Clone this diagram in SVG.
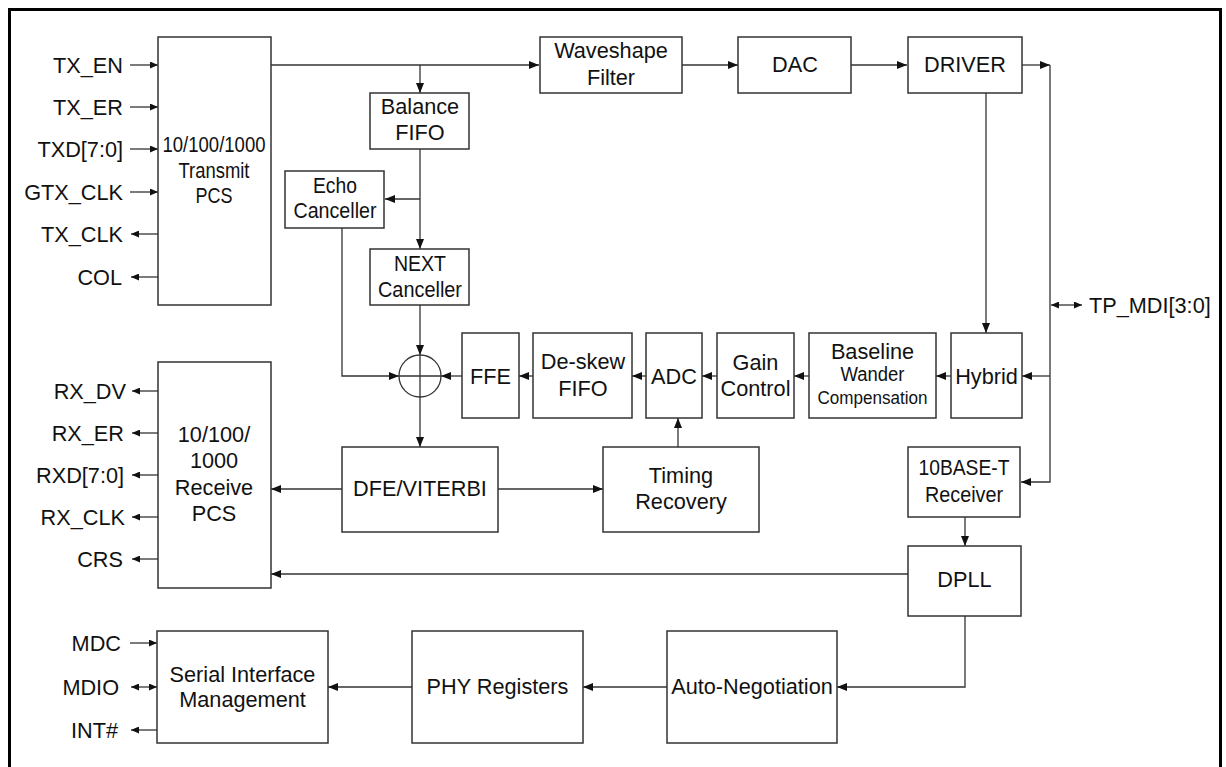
<svg xmlns="http://www.w3.org/2000/svg" width="1226" height="767" viewBox="0 0 1226 767">
<style>
.b{fill:#fff;stroke:#333;stroke-width:1.5}
.c{fill:none;stroke:#333;stroke-width:1.3}
.t{font-family:"Liberation Sans",Arial,sans-serif;font-size:21.7px;fill:#111;text-anchor:middle}
.l{font-family:"Liberation Sans",Arial,sans-serif;font-size:21.7px;fill:#111;text-anchor:end}
.a{marker-end:url(#a)}
.s{marker-end:url(#s)}
</style>
<defs>
<marker id="a" markerUnits="userSpaceOnUse" markerWidth="10" markerHeight="8" refX="10" refY="4" orient="auto-start-reverse"><path d="M0,0 L10,4 L0,8 z" fill="#111"/></marker>
<marker id="s" markerUnits="userSpaceOnUse" markerWidth="8" markerHeight="7" refX="8" refY="3.5" orient="auto-start-reverse"><path d="M0,0 L8,3.5 L0,7 z" fill="#111"/></marker>
</defs>
<rect x="0" y="0" width="1226" height="767" fill="#fff"/>
<rect x="9.5" y="9.5" width="1211" height="800" fill="none" stroke="#000" stroke-width="3"/>

<g id="connectors">
<path class="c a" d="M271,65 H539"/>
<path class="c a" d="M420,65 V93"/>
<path class="c a" d="M682,65 H738"/>
<path class="c a" d="M851,65 H907"/>
<path class="c a" d="M1022,65 H1050"/>
<path class="c a" d="M1050,65 V482 H1021"/>
<path class="c a" d="M1050,376 H1022"/>
<path class="c s" style="marker-start:url(#s)" d="M1051,305 H1082"/>
<path class="c a" d="M986,93 V333"/>
<path class="c a" d="M420,149 V249"/>
<path class="c a" d="M420,199 H385"/>
<path class="c a" d="M342,228 V376 H399"/>
<path class="c a" d="M420,305 V355"/>
<path class="c a" d="M462,376 H441"/>
<path class="c a" d="M533,376 H519"/>
<path class="c a" d="M646,376 H632"/>
<path class="c a" d="M717,376 H702"/>
<path class="c a" d="M809,376 H794"/>
<path class="c a" d="M951,376 H936"/>
<path class="c a" d="M420,397 V447"/>
<path class="c a" d="M342,489 H271"/>
<path class="c a" d="M498,489 H603"/>
<path class="c a" d="M678,447 V418"/>
<path class="c a" d="M965,517 V546"/>
<path class="c a" d="M908,574 H271"/>
<path class="c a" d="M965,616 V687 H837"/>
<path class="c a" d="M667,687 H583"/>
<path class="c a" d="M412,687 H328"/>
<path class="c s" d="M130,65 H158"/>
<path class="c s" d="M130,107 H158"/>
<path class="c s" d="M130,149 H158"/>
<path class="c s" d="M130,192 H158"/>
<path class="c s" d="M158,234 H131"/>
<path class="c s" d="M158,277 H131"/>
<path class="c s" d="M158,391 H132"/>
<path class="c s" d="M158,433 H132"/>
<path class="c s" d="M158,475 H132"/>
<path class="c s" d="M158,517 H132"/>
<path class="c s" d="M158,559 H132"/>
<path class="c s" d="M130,643 H157"/>
<path class="c s" style="marker-start:url(#s)" d="M131,687 H157"/>
<path class="c s" d="M157,730 H131"/>
</g>

<g id="io-labels">
<text class="l" x="123" y="73">TX_EN</text>
<text class="l" x="123" y="115">TX_ER</text>
<text class="l" x="123" y="157">TXD[7:0]</text>
<text class="l" x="123" y="200">GTX_CLK</text>
<text class="l" x="123" y="242">TX_CLK</text>
<text class="l" x="122" y="285">COL</text>
<text class="l" x="126" y="399">RX_DV</text>
<text class="l" x="124" y="441">RX_ER</text>
<text class="l" x="124" y="483">RXD[7:0]</text>
<text class="l" x="125" y="525">RX_CLK</text>
<text class="l" x="123" y="567">CRS</text>
<text class="l" x="121" y="651">MDC</text>
<text class="l" x="119" y="695">MDIO</text>
<text class="l" x="118" y="738">INT#</text>
<text class="t" style="text-anchor:start" x="1089" y="313">TP_MDI[3:0]</text>
</g>

<g id="transmit-pcs">
<rect class="b" x="158" y="37" width="113" height="268"/>
<text class="t" x="214" y="152" textLength="103" lengthAdjust="spacingAndGlyphs">10/100/1000</text>
<text class="t" x="214" y="178" textLength="71" lengthAdjust="spacingAndGlyphs">Transmit</text>
<text class="t" x="214" y="203" textLength="37" lengthAdjust="spacingAndGlyphs">PCS</text>
</g>
<g id="balance-fifo">
<rect class="b" x="370" y="93" width="99" height="56"/>
<text class="t" x="420" y="114">Balance</text>
<text class="t" x="420" y="140">FIFO</text>
</g>
<g id="echo-canceller">
<rect class="b" x="285" y="171" width="99" height="57"/>
<text class="t" x="335" y="193" textLength="44" lengthAdjust="spacingAndGlyphs">Echo</text>
<text class="t" x="335" y="218" textLength="83" lengthAdjust="spacingAndGlyphs">Canceller</text>
</g>
<g id="next-canceller">
<rect class="b" x="370" y="249" width="99" height="56"/>
<text class="t" x="420" y="271" textLength="52" lengthAdjust="spacingAndGlyphs">NEXT</text>
<text class="t" x="420" y="297" textLength="84" lengthAdjust="spacingAndGlyphs">Canceller</text>
</g>
<g id="waveshape-filter">
<rect class="b" x="540" y="37" width="142" height="56"/>
<text class="t" x="611" y="58">Waveshape</text>
<text class="t" x="611" y="85">Filter</text>
</g>
<g id="dac">
<rect class="b" x="738" y="37" width="113" height="56"/>
<text class="t" x="795" y="72">DAC</text>
</g>
<g id="driver">
<rect class="b" x="908" y="37" width="114" height="56"/>
<text class="t" x="965" y="72">DRIVER</text>
</g>
<g id="adder">
<circle cx="420" cy="376" r="21" fill="#fff" stroke="#333" stroke-width="1.3"/>
<path class="c" d="M399,376 H441 M420,355 V397"/>
</g>
<g id="ffe">
<rect class="b" x="462" y="333" width="57" height="85"/>
<text class="t" x="490.5" y="384">FFE</text>
</g>
<g id="deskew-fifo">
<rect class="b" x="533" y="333" width="99" height="85"/>
<text class="t" x="583" y="369">De-skew</text>
<text class="t" x="583" y="396">FIFO</text>
</g>
<g id="adc">
<rect class="b" x="646" y="333" width="56" height="85"/>
<text class="t" x="674" y="384">ADC</text>
</g>
<g id="gain-control">
<rect class="b" x="717" y="333" width="77" height="85"/>
<text class="t" x="755.5" y="370">Gain</text>
<text class="t" x="755.5" y="396">Control</text>
</g>
<g id="baseline-wander">
<rect class="b" x="809" y="333" width="127" height="85"/>
<text class="t" x="872.5" y="359">Baseline</text>
<text class="t" x="872.5" y="381" style="font-size:20px" textLength="64" lengthAdjust="spacingAndGlyphs">Wander</text>
<text class="t" x="872.5" y="404" style="font-size:17.5px" textLength="110" lengthAdjust="spacingAndGlyphs">Compensation</text>
</g>
<g id="hybrid">
<rect class="b" x="951" y="333" width="71" height="85"/>
<text class="t" x="986.5" y="384">Hybrid</text>
</g>
<g id="receive-pcs">
<rect class="b" x="158" y="362" width="113" height="226"/>
<text class="t" x="214" y="442">10/100/</text>
<text class="t" x="214" y="468">1000</text>
<text class="t" x="214" y="495">Receive</text>
<text class="t" x="214" y="521">PCS</text>
</g>
<g id="dfe-viterbi">
<rect class="b" x="342" y="447" width="156" height="85"/>
<text class="t" x="420" y="496">DFE/VITERBI</text>
</g>
<g id="timing-recovery">
<rect class="b" x="603" y="447" width="156" height="85"/>
<text class="t" x="681" y="483">Timing</text>
<text class="t" x="681" y="509">Recovery</text>
</g>
<g id="tenbaset-receiver">
<rect class="b" x="908" y="447" width="112" height="70"/>
<text class="t" x="964" y="475" textLength="91" lengthAdjust="spacingAndGlyphs">10BASE-T</text>
<text class="t" x="964" y="501.5" textLength="78" lengthAdjust="spacingAndGlyphs">Receiver</text>
</g>
<g id="dpll">
<rect class="b" x="908" y="546" width="113" height="70"/>
<text class="t" x="964.5" y="587">DPLL</text>
</g>
<g id="serial-interface">
<rect class="b" x="157" y="631" width="171" height="112"/>
<text class="t" x="242.5" y="682">Serial Interface</text>
<text class="t" x="242.5" y="707">Management</text>
</g>
<g id="phy-registers">
<rect class="b" x="412" y="631" width="171" height="112"/>
<text class="t" x="497.5" y="694">PHY Registers</text>
</g>
<g id="auto-negotiation">
<rect class="b" x="667" y="631" width="170" height="112"/>
<text class="t" x="752" y="694">Auto-Negotiation</text>
</g>
</svg>
